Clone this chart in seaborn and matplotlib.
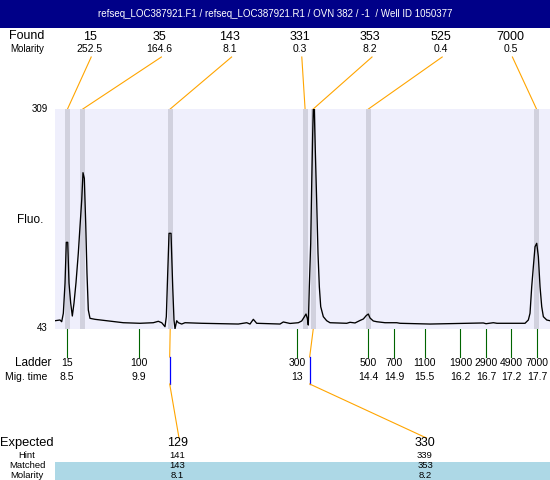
import matplotlib
matplotlib.use("Agg")
import matplotlib.pyplot as plt
import pandas as pd
import seaborn as sns

title = "refseq_LOC387921.F1 / refseq_LOC387921.R1 / OVN 382 / -1  / Well ID 1050377"

# peaks found in the run
found_size = ["15", "35", "143", "331", "353", "525", "7000"]
found_molarity = ["252.5", "164.6", "8.1", "0.3", "8.2", "0.4", "0.5"]
found_time = [8.51, 8.81, 10.52, 13.16, 13.32, 14.40, 17.69]

# ladder
ladder_size = ["15", "100", "300", "500", "700", "1100", "1900", "2900", "4900", "7000"]
ladder_time = [8.5, 9.9, 13.0, 14.4, 14.9, 15.5, 16.2, 16.7, 17.2, 17.7]

# expected products and what they matched
expected_size = ["129", "330"]
expected_hint = ["141", "339"]
expected_matched = ["143", "353"]
expected_molarity = ["8.1", "8.2"]
expected_time = [10.51, 13.25]
matched_peak = [2, 4]

# electropherogram trace (migration time, fluorescence)
trace_time = [8.265, 8.363, 8.396, 8.428, 8.461, 8.486, 8.514, 8.539, 8.572, 8.604,
              8.637, 8.676, 8.721, 8.754, 8.788, 8.813, 8.839, 8.866, 8.891, 8.917,
              8.950, 9.048, 9.277, 9.602, 9.929, 10.189, 10.287, 10.354, 10.418, 10.444,
              10.471, 10.497, 10.536, 10.569, 10.594, 10.614, 10.647, 10.679, 10.745, 10.810,
              11.137, 11.853, 12.018, 12.082, 12.147, 12.213, 12.669, 12.734, 12.800, 12.865,
              13.028, 13.094, 13.139, 13.178, 13.204, 13.223, 13.243, 13.270, 13.290, 13.309,
              13.321, 13.340, 13.360, 13.388, 13.413, 13.439, 13.466, 13.517, 13.583, 13.648,
              13.975, 14.040, 14.137, 14.235, 14.300, 14.358, 14.398, 14.431, 14.495, 14.562,
              14.725, 14.954, 15.018, 15.605, 16.649, 16.702, 16.845, 16.917, 17.465, 17.530,
              17.563, 17.596, 17.628, 17.661, 17.694, 17.726, 17.759, 17.792, 17.824, 17.890,
              17.954]
trace_fluo = [53.0, 53.9, 51.8, 62.0, 98.3, 147.8, 147.8, 98.6, 74.4, 58.7,
              74.4, 99.0, 134.5, 166.7, 199.0, 232.0, 225.2, 170.8, 110.3, 66.0,
              55.9, 54.7, 53.0, 50.6, 49.9, 50.6, 52.3, 50.6, 45.8, 57.9,
              110.3, 158.7, 158.7, 94.1, 53.9, 43.2, 53.0, 50.6, 49.0, 50.6,
              49.9, 49.0, 50.6, 49.0, 54.7, 49.9, 49.0, 51.5, 50.6, 49.7,
              50.6, 52.7, 57.1, 61.1, 55.9, 47.8, 94.1, 146.6, 219.2, 279.6,
              309.0, 309.0, 259.4, 195.0, 134.5, 94.1, 70.0, 57.9, 53.0, 50.6,
              49.9, 51.1, 50.3, 53.3, 55.1, 59.3, 61.1, 56.3, 52.7, 51.8,
              50.6, 50.6, 49.9, 49.0, 50.3, 49.4, 50.6, 49.9, 49.9, 53.9,
              62.0, 94.1, 118.3, 142.5, 146.6, 130.4, 94.1, 70.0, 57.9, 53.9,
              53.0]

y_min, y_max = 43, 309
x_min, x_max = 8.265, 17.954

navy = "#000088"
lavender = "#EFEFFC"
band_color = "#D1D1DE"
orange = "#FFA500"
green = "#006400"

plt.rcParams['font.family'] = ['Liberation Sans', 'DejaVu Sans']

W, H = 550, 480
fig = plt.figure(figsize=(W / 100, H / 100), dpi=100)

# overlay in pixel coords for text and connectors
ov = fig.add_axes([0, 0, 1, 1])
ov.set_xlim(0, W)
ov.set_ylim(H, 0)
ov.axis('off')
ov.set_autoscale_on(False)

plot_left, plot_top, plot_right, plot_bottom = 55, 109, 550, 329
ax = fig.add_axes([plot_left / W, (H - plot_bottom) / H,
                   (plot_right - plot_left) / W, (plot_bottom - plot_top) / H])
ax.set_facecolor(lavender)

df = pd.DataFrame({'time': trace_time, 'fluo': trace_fluo})
sns.lineplot(data=df, x='time', y='fluo', ax=ax, color='black', lw=0.95,
             estimator=None, sort=False, zorder=3)
for t in found_time:
    ax.axvspan(t - 0.05, t + 0.05, color=band_color, lw=0, zorder=1)
ax.set_xlim(x_min, x_max)
ax.set_ylim(y_min, y_max)
ax.set_xticks([])
ax.set_yticks([])
ax.set_xlabel('')
ax.set_ylabel('')
for s in ax.spines.values():
    s.set_visible(False)


def to_px(t):
    return ax.transData.transform((t, y_min))[0]


# title bar
ov.add_patch(plt.Rectangle((0, 0), W, 28, color=navy, lw=0))
ov.text(W / 2, 14, title, color='white', fontsize=7, ha='center', va='center')

# found rows
ov.text(27, 36, "Found", fontsize=9, ha='center', va='center')
ov.text(27, 49, "Molarity", fontsize=7, ha='center', va='center')
slot_x0, slot_step = 89.5, 70.2
for i, (sz, mol, t) in enumerate(zip(found_size, found_molarity, found_time)):
    sx = slot_x0 + i * slot_step
    ov.text(sx, 36.5, sz, fontsize=9, ha='center', va='center')
    ov.text(sx, 49, mol, fontsize=7.5, ha='center', va='center')
    ov.plot([sx + 1.7, to_px(t)], [57, plot_top], color=orange, lw=0.8)

# axis labels
ov.text(48, plot_top, str(y_max), fontsize=7, ha='right', va='center')
ov.text(48, plot_bottom - 1, str(y_min), fontsize=7, ha='right', va='center')
ov.text(30, 220, "Fluo.", fontsize=8.5, ha='center', va='center')

# ladder
ov.text(33, 363, "Ladder", fontsize=8.5, ha='center', va='center')
ov.text(26, 377, "Mig. time", fontsize=7.5, ha='center', va='center')
for sz, t in zip(ladder_size, ladder_time):
    lx = to_px(t)
    ov.plot([lx, lx], [plot_bottom, 357], color=green, lw=0.8)
    ov.text(lx, 363, sz, fontsize=7.5, ha='center', va='center')
    ov.text(lx, 377.5, f"{t:g}", fontsize=7.5, ha='center', va='center')

# expected table
ov.add_patch(plt.Rectangle((plot_left, 462), W - plot_left, H - 462, color='#ADD8E6', lw=0))
ov.text(0, 443, "Expected", fontsize=9.3, ha='left', va='center')
ov.text(27, 455.5, "Hint", fontsize=6.8, ha='center', va='center')
ov.text(27, 466, "Matched", fontsize=6.8, ha='center', va='center')
ov.text(27, 475, "Molarity", fontsize=6.8, ha='center', va='center')
expected_label_x = [177.5, 425]
for ex, sz, hint, mt, mol, et, pk in zip(expected_label_x, expected_size, expected_hint,
                                         expected_matched, expected_molarity,
                                         expected_time, matched_peak):
    ov.text(ex, 443.5, sz, fontsize=9, ha='center', va='center')
    ov.text(ex, 455.5, hint, fontsize=6.8, ha='center', va='center')
    ov.text(ex, 466, mt, fontsize=6.8, ha='center', va='center')
    ov.text(ex, 475, mol, fontsize=6.8, ha='center', va='center')
    px_peak = to_px(found_time[pk])
    px_exp = to_px(et)
    ov.plot([px_peak, px_exp], [plot_bottom, 357], color=orange, lw=0.8)
    ov.plot([px_exp, px_exp], [357, 384], color='blue', lw=0.9)
    ov.plot([px_exp, ex + 1.5], [384, 438], color=orange, lw=0.8)

fig.savefig('out.png', dpi=100)
